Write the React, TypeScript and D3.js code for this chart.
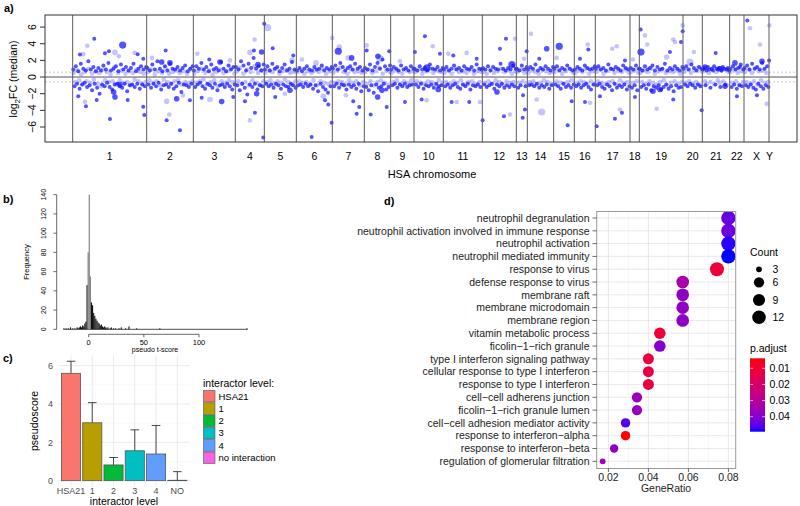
import React from 'react';
import * as d3 from 'd3';

const FONT = '"Liberation Sans", Arial, Helvetica, sans-serif';

// ---------- a) log2FC along the genome ----------
const chrNames = ['1', '2', '3', '4', '5', '6', '7', '8', '9', '10', '11', '12', '13', '14', '15', '16', '17', '18', '19', '20', '21', '22', 'X', 'Y'];
const chrGeneCounts = [2220, 1400, 1260, 870, 960, 1080, 960, 790, 700, 880, 1170, 1020, 330, 790, 620, 630, 1040, 280, 1310, 580, 820, 430, 750, 30];

// significant genes (dark) per chromosome, in genome order
const bandDark: number[][] = [
  [0.9, -1.1, 1.3, -0.8, 0.7, -1.4, 1.6, -0.9, 1.0, -0.7, 0.8, -1.2, 1.9, -1.0, 0.9, -1.6, 1.2, -0.8, 0.7, -1.3, 1.1, -2.0, 0.8, -0.9, 1.4, -1.1, 0.9, -0.7, 1.7, -1.2, 0.8, -1.5, 1.0, -0.9, 1.3, -0.8, 0.7, -1.1, 1.5, -1.3, 0.9, -0.8, 1.2, -1.7, 0.8, -1.0, 1.1, -0.9, 1.6, -1.2, 0.7, -0.8, 1.0, -1.4, 1.3, -0.9, 0.9, -1.1, 1.2],
  [1.1, -0.9, 0.8, -1.3, 1.5, -0.8, 0.9, -1.1, 1.9, -0.7, 1.0, -1.5, 0.7, -1.0, 1.3, -0.9, 0.8, -1.2, 1.6, -0.8, 1.0, -1.4, 0.9, -1.1, 1.2, -0.7, 0.8, -1.8, 1.1, -0.9, 1.4, -1.0, 0.7, -1.2, 1.0, -0.8, 1.3],
  [0.8, -1.2, 1.3, -0.9, 1.0, -0.7, 1.7, -1.1, 0.9, -1.4, 1.2, -0.8, 0.7, -1.0, 1.5, -1.3, 0.9, -0.8, 1.1, -1.6, 0.8, -1.0, 1.8, -0.9, 1.0, -1.2, 0.7, -0.8, 1.4, -1.1, 0.9, -1.5, 1.2, -0.9],
  [1.2, -1.0, 0.9, -1.6, 1.9, -0.8, 1.4, -1.3, 0.8, -2.1, 1.6, -0.9, 1.1, -1.2, 2.3, -0.8, 1.0, -1.5, 1.3, -1.0, 0.8, -1.1, 1.5],
  [0.9, -0.8, 1.3, -1.1, 0.8, -0.9, 1.6, -1.3, 1.0, -0.8, 1.2, -1.0, 0.7, -1.4, 1.1, -0.9, 1.5, -1.1, 0.8, -1.2, 1.0, -0.8, 1.8, -1.0, 0.9, -1.3],
  [0.8, -1.0, 1.1, -0.9, 0.7, -1.2, 1.0, -0.8, 1.3, -1.1, 0.9, -0.9, 0.8, -1.4, 1.2, -1.0, 0.9, -1.7, 1.0, -0.8, 1.4, -1.2, 0.8, -1.5, 1.1, -1.9, 0.9, -1.1, 1.2],
  [1.0, -1.1, 1.4, -0.8, 0.9, -1.3, 1.7, -0.9, 1.2, -1.0, 0.8, -1.5, 1.1, -0.9, 1.3, -1.2, 0.9, -1.0, 1.6, -1.4, 1.0, -0.8, 1.2, -1.7, 0.8, -1.1],
  [1.1, -1.2, 0.9, -1.6, 1.5, -1.0, 0.8, -1.9, 1.2, -0.9, 1.7, -1.3, 1.0, -1.1, 2.1, -0.8, 1.3, -1.5, 0.9, -1.2, 1.4],
  [0.9, -1.0, 1.2, -0.8, 1.0, -1.3, 0.8, -0.9, 1.4, -1.1, 0.9, -0.8, 1.1, -1.2, 0.8, -1.0, 1.3, -0.9, 1.0],
  [1.0, -0.9, 0.8, -1.2, 1.3, -0.8, 0.9, -1.4, 1.1, -1.0, 0.8, -1.1, 1.5, -0.9, 1.0, -1.3, 0.9, -0.8, 1.2, -1.1, 0.8, -1.0, 1.1],
  [0.9, -1.1, 1.2, -0.9, 0.8, -1.3, 1.0, -1.0, 1.4, -0.8, 0.9, -1.2, 1.1, -1.4, 0.8, -0.9, 1.3, -1.1, 1.0, -0.8, 0.9, -1.5, 1.2, -1.0, 0.8, -1.1, 1.5, -0.9, 1.0, -1.2, 0.9],
  [1.1, -0.9, 0.9, -1.2, 1.3, -1.0, 0.8, -0.8, 1.2, -1.4, 1.0, -0.9, 0.9, -1.1, 1.6, -0.8, 1.0, -1.3, 0.8, -1.0, 1.1, -1.2, 0.9, -0.9, 1.4, -1.1, 1.0],
  [1.0, -1.3, 0.8, -1.0, 1.4, -2.2, 0.9, -1.1, 1.2],
  [0.9, -1.0, 1.2, -0.9, 1.0, -1.1, 1.5, -0.8, 0.8, -1.3, 1.1, -1.0, 0.9, -1.2, 1.3, -0.9, 1.0, -1.4, 0.8, -1.0, 1.2],
  [1.0, -0.9, 1.3, -1.1, 0.8, -1.4, 1.1, -0.8, 0.9, -1.2, 1.4, -1.0, 1.0, -1.3, 0.8, -0.9],
  [0.9, -1.1, 1.2, -0.9, 1.0, -1.3, 0.8, -1.0, 1.4, -0.8, 1.1, -1.2, 0.9, -1.5, 1.0, -0.9, 1.3],
  [1.0, -1.0, 1.3, -0.8, 0.9, -1.2, 1.1, -1.4, 0.8, -0.9, 1.5, -1.1, 1.0, -1.6, 0.9, -0.8, 1.2, -1.3, 1.0, -1.0, 0.8, -1.2, 1.4, -0.9, 1.1, -1.5, 0.9, -1.1],
  [1.1, -1.3, 0.9, -1.0, 1.4, -1.6, 1.0],
  [1.0, -1.2, 0.8, -1.0, 1.3, -1.4, 0.9, -0.9, 1.1, -1.6, 1.4, -1.1, 0.8, -1.3, 1.2, -1.0, 0.9, -1.5, 1.0, -1.2, 1.6, -0.9, 0.8, -1.4, 1.1, -1.1, 0.9, -1.7, 1.3, -1.0, 1.0, -1.3, 0.8, -1.2, 1.2],
  [1.0, -0.9, 1.3, -1.1, 0.9, -0.8, 1.5, -1.0, 1.1, -1.3, 0.8, -0.9, 1.2, -1.1, 1.0],
  [0.9, 1.1, -1.0, 0.8, 1.2, 0.9, -1.3, 1.0, 0.8, 1.3, -0.9, 1.0, 0.9, 1.1, -1.2, 0.8, 1.2, 1.0, -0.9, 0.9, 1.1, 0.8],
  [1.0, -1.2, 1.3, -0.9, 0.9, -1.4, 1.1, -1.0, 1.5, -1.1, 0.9],
  [1.1, -1.0, 1.4, -1.2, 0.9, -0.9, 1.6, -1.3, 1.0, -1.5, 1.2, -0.8, 0.9, -1.1, 1.7, -1.4, 1.0, -1.0, 1.3, -1.2],
  [],
];

// non-significant genes (light) per chromosome
const bandLight: number[][] = [
  [0.5, -0.6, 0.8, -0.4, 0.3, -0.9, 0.6, -0.5, 1.0, -0.7, 0.4, -0.3, 0.7, -0.8, 0.5, -1.1, 0.9, -0.4, 0.6, -0.6, 0.3, -0.5, 1.2, -0.9, 0.5, -0.4, 0.8, -0.7, 0.4, -0.6, 0.7, -1.0, 0.5, -0.3, 0.9, -0.5, 0.6, -0.8, 0.4, -0.6],
  [0.6, -0.4, 0.9, -0.7, 0.3, -0.5, 0.7, -1.0, 0.5, -0.3, 1.1, -0.6, 0.4, -0.8, 0.6, -0.5, 0.8, -0.4, 0.5, -0.9, 0.7, -0.6, 0.4, -0.7, 0.9, -0.5],
  [0.4, -0.7, 0.7, -0.5, 1.0, -0.3, 0.5, -0.9, 0.8, -0.6, 0.3, -0.4, 0.6, -1.1, 0.9, -0.5, 0.5, -0.7, 0.7, -0.4, 1.0, -0.6, 0.4],
  [0.7, -0.5, 1.1, -0.8, 0.4, -0.6, 0.9, -1.0, 0.6, -0.4, 1.3, -0.7, 0.5, -0.9, 0.8, -0.5],
  [0.5, -0.6, 0.8, -0.4, 0.6, -0.8, 1.0, -0.5, 0.4, -0.7, 0.7, -0.3, 0.9, -0.6, 0.5, -0.9, 0.6, -0.5],
  [0.6, -0.5, 0.9, -0.7, 0.4, -0.6, 0.7, -0.9, 0.5, -0.4, 0.8, -1.0, 0.6, -0.5, 1.0, -0.7, 0.4, -0.8, 0.7, -0.6],
  [0.5, -0.7, 0.8, -0.5, 1.1, -0.6, 0.6, -0.9, 0.4, -0.4, 0.9, -0.7, 0.6, -0.5, 0.7, -1.0, 0.5, -0.6],
  [0.6, -0.8, 0.9, -0.5, 0.5, -1.0, 0.7, -0.6, 1.1, -0.4, 0.4, -0.7, 0.8, -0.9, 0.6],
  [0.5, -0.6, 0.8, -0.4, 0.6, -0.8, 0.4, -0.5, 0.9, -0.7, 0.6, -0.4, 0.7],
  [0.6, -0.5, 0.9, -0.7, 0.4, -0.8, 0.7, -0.5, 1.0, -0.6, 0.5, -0.9, 0.8, -0.4, 0.6, -0.7],
  [0.5, -0.6, 0.8, -0.8, 0.4, -0.5, 1.0, -0.7, 0.6, -0.4, 0.7, -0.9, 0.5, -0.6, 0.9, -0.5, 0.4, -0.8, 0.7, -0.6, 0.6],
  [0.6, -0.7, 0.4, -0.5, 0.9, -0.8, 0.5, -0.4, 0.7, -0.6, 1.0, -0.9, 0.6, -0.5, 0.8, -0.7, 0.4, -0.6, 0.7],
  [0.6, -0.7, 0.9, -0.5, 0.5, -0.8],
  [0.5, -0.6, 0.8, -0.5, 0.6, -0.9, 0.4, -0.7, 0.9, -0.4, 0.7, -0.6, 0.5, -0.8, 0.6],
  [0.6, -0.5, 0.9, -0.7, 0.4, -0.8, 0.7, -0.6, 1.0, -0.4, 0.5],
  [0.5, -0.7, 0.8, -0.5, 0.6, -0.6, 1.0, -0.8, 0.4, -0.5, 0.7, -0.9],
  [0.6, -0.5, 0.9, -0.7, 0.4, -0.8, 0.7, -0.6, 1.0, -0.5, 0.5, -0.9, 0.8, -0.4, 0.6, -0.7, 0.9, -0.6, 0.5],
  [0.6, -0.7, 0.8, -0.5, 0.5],
  [0.5, -0.6, 0.8, -0.8, 0.6, -0.5, 1.0, -0.7, 0.4, -0.9, 0.7, -0.6, 0.9, -0.4, 0.5, -1.0, 0.7, -0.7, 0.6, -0.5, 0.8, -0.8, 0.4, -0.6],
  [0.6, -0.7, 0.9, -0.5, 0.5, -0.8, 0.8, -0.6, 1.1, -0.9, 0.7],
  [0.7, -0.5, -0.8, 0.5, -0.6, 1.0, -0.9, 0.6, -0.4, -0.7, 0.8, -0.5, 0.9, -1.0, 0.6],
  [0.6, -0.7, 0.9, -0.5, 0.5, -0.9, 0.7, -0.6],
  [0.6, -0.6, 0.9, -0.8, 0.5, -0.5, 1.1, -0.9, 0.7, -0.4, 0.8, -0.7, 0.5, -0.6],
  [],
];

// outlying genes: [gene index, log2FC, size class 1-3, significant 1/0]
const outlierGenes: number[][] = [
  [648, 4.6, 1, 1], [438, 3.75, 1, 0], [219, 2.7, 1, 1], [318, 2.75, 1, 0], [969, 2.85, 1, 1], [1089, 3.1, 1, 1],
  [1269, 2.96, 2, 0], [1500, 3.84, 3, 1], [1389, 2.5, 1, 0], [1860, 2.9, 1, 0], [1950, 2.75, 1, 1], [2118, 2.2, 1, 1],
  [168, -2.3, 1, 1], [369, -2.96, 1, 0], [399, -3.5, 1, 1], [720, -2.75, 1, 1], [1119, -5.05, 1, 1], [1269, -2.4, 2, 1],
  [1650, -2.77, 1, 1], [2118, -3.56, 1, 1], [2148, -4.56, 1, 1], [1230, -1.8, 2, 1], [1419, -0.9, 2, 1],
  [2790, 3.2, 1, 1], [2919, 1.7, 2, 1], [2670, 1.8, 2, 1], [2379, 2.3, 1, 0], [2820, -2.9, 2, 0], [2898, -4.5, 1, 0],
  [2820, -5.2, 1, 1], [3219, -6.4, 1, 1], [3120, -2.6, 2, 1], [3519, -2.8, 1, 1], [3309, -2.2, 1, 0],
  [3738, 2.8, 1, 0], [4098, 2.1, 1, 1], [4419, 1.8, 2, 1], [4119, -2.7, 2, 0], [4470, -2.95, 2, 1], [4818, -2.4, 1, 1],
  [3870, -2.5, 1, 1], [4719, 2.0, 1, 0],
  [5319, 2.96, 2, 0], [5439, 3.2, 1, 1], [5460, 4.5, 1, 0], [5670, 3.0, 2, 1], [5169, -2.9, 1, 1], [5319, -5.2, 1, 0],
  [5469, -4.3, 1, 1], [5520, -2.0, 2, 1], [5718, -7.25, 1, 1], [5559, 1.5, 2, 1],
  [5748, 6.4, 1, 1], [5850, 5.95, 3, 0], [6000, 3.45, 1, 1], [6618, 2.6, 1, 1], [6579, 2.0, 2, 0], [6078, -2.4, 1, 1],
  [6369, -2.0, 1, 0], [6519, -1.6, 2, 1],
  [7170, -7.2, 1, 1], [7518, -2.3, 2, 0], [7569, -2.8, 1, 1], [7668, -3.3, 1, 1], [7770, -5.5, 1, 1], [7788, 4.7, 1, 0],
  [6879, 2.1, 1, 0], [7299, 1.7, 2, 0],
  [7998, 3.6, 2, 0], [7968, 3.1, 3, 1], [8370, 2.3, 2, 1], [8268, 2.3, 2, 0], [8418, -2.9, 1, 1], [8520, -4.4, 1, 1],
  [8598, -3.6, 1, 1], [8199, -2.2, 1, 0],
  [8820, 3.8, 1, 0], [8820, 3.2, 1, 1], [9219, 2.2, 3, 0], [9159, 2.5, 2, 1], [9498, 3.1, 1, 1], [8940, -4.5, 1, 1],
  [9150, -2.4, 2, 1], [9420, -3.6, 1, 1], [9279, -1.6, 2, 1],
  [9969, -3.0, 1, 1], [9819, 1.9, 1, 0],
  [10269, 3.0, 1, 1], [10569, 4.9, 1, 1], [10800, 3.7, 1, 0], [11019, 2.8, 1, 1], [10968, -1.5, 2, 1], [10470, -2.7, 1, 1],
  [10620, -2.8, 1, 0], [10629, 1.1, 3, 1],
  [11268, 2.8, 1, 0], [11418, 2.6, 1, 1], [11820, 2.9, 1, 0], [12120, 2.2, 1, 1], [11370, -3.0, 1, 1], [11520, -3.0, 1, 0],
  [11898, -3.0, 1, 1], [12219, -3.0, 1, 0], [12300, -5.2, 1, 1],
  [12819, 3.4, 1, 1], [12999, 4.6, 1, 1], [12939, -4.7, 1, 1], [13119, -4.5, 1, 0], [13269, 4.6, 1, 0], [12729, -1.8, 2, 1],
  [13179, 1.5, 3, 1],
  [13500, -4.9, 1, 1], [13569, -3.9, 1, 1], [13620, 3.1, 1, 1], [13539, 2.2, 1, 0],
  [13749, 5.2, 1, 0], [14220, 3.4, 2, 1], [14070, -4.2, 3, 0], [13920, -2.7, 1, 0], [13998, 2.2, 1, 1],
  [14598, 3.7, 3, 1], [14850, -5.8, 1, 1], [14520, 2.3, 1, 0], [14970, -2.9, 1, 1],
  [15450, 3.9, 1, 0], [15468, 3.3, 1, 1], [15219, 2.2, 1, 1], [15369, -3.0, 1, 1], [15519, -3.1, 1, 0], [15720, -5.9, 1, 1],
  [16320, 3.7, 1, 0], [16188, 3.4, 1, 0], [16419, -3.9, 1, 0], [16269, -5.0, 1, 1], [16479, -4.3, 1, 1], [15819, -2.3, 1, 1],
  [16569, 2.0, 1, 1],
  [16869, -2.4, 1, 1], [16809, 2.1, 1, 0],
  [17040, 5.7, 1, 1], [17169, 5.0, 1, 0], [17049, 3.0, 3, 1], [17238, 3.9, 1, 0], [17520, -3.8, 1, 0], [18018, 4.5, 1, 0],
  [18069, 4.2, 1, 0], [18300, 6.2, 1, 0], [18300, 5.5, 1, 1], [18249, 4.2, 1, 1], [17919, 3.0, 1, 1], [17820, 2.4, 2, 0],
  [18018, -2.7, 1, 1], [17409, -1.7, 2, 1], [17619, -1.5, 2, 1],
  [18639, 3.0, 1, 0], [18870, -4.0, 1, 1], [18519, 1.8, 3, 0],
  [19290, 2.9, 1, 1], [19569, -1.1, 2, 1], [18969, 1.2, 2, 1], [19419, 1.0, 2, 1],
  [19869, 1.7, 2, 1], [20019, 1.2, 1, 1], [19929, -2.3, 1, 1],
  [20238, 6.8, 1, 1], [20319, 5.85, 1, 0], [20619, 3.9, 1, 0], [20820, -3.2, 1, 0], [20529, -2.2, 1, 1], [20679, 1.9, 2, 1],
  [20898, 6.2, 1, 0], [20893, 2.0, 1, 1],
];
const fcTicks = [-6, -4, -2, 0, 2, 4, 6];
const fcCutoff = 0.58;

// ---------- b) histogram of pseudo t-scores ----------
const tBinStart = [-23, -21, -19, -17, -15, -13, -11, -10, -9, -8, -7, -6, -5, -4, -3, -2, -1, 0, 1, 2, 3, 4, 5, 6, 7, 8, 9, 10, 11, 12, 13, 14, 15, 16, 17, 19, 20, 22, 24, 27, 29, 33, 36, 43, 64, 143];
const tCounts = [1, 1, 1, 2, 1, 1, 2, 1, 2, 3, 2, 4, 3, 6, 8, 46, 80, 140, 55, 28, 25, 17, 14, 11, 9, 7, 6, 4, 5, 3, 2, 3, 2, 1, 2, 1, 2, 1, 1, 1, 2, 1, 3, 1, 1, 1];
const freqTicks = [0, 20, 40, 60, 80, 100, 120, 140];
const tTicks = [0, 50, 100];

// ---------- c) pseudoscore by interactor level ----------
const levels = ['HSA21', '1', '2', '3', '4', 'NO'];
const levelNames = ['HSA21', '1', '2', '3', '4', 'no interaction'];
const levelColors = ['#F8766D', '#B79F00', '#00BA38', '#00BFC4', '#619CFF', '#F564E3'];
const pseudoMean = [5.6, 3.02, 0.82, 1.56, 1.39, 0.02];
const pseudoErr = [0.63, 1.05, 0.39, 1.09, 1.49, 0.45];
const pseudoTicks = [0, 2, 4, 6];

// ---------- d) GO enrichment dot plot ----------
const goTerms = [
  'neutrophil degranulation',
  'neutrophil activation involved in immune response',
  'neutrophil activation',
  'neutrophil mediated immunity',
  'response to virus',
  'defense response to virus',
  'membrane raft',
  'membrane microdomain',
  'membrane region',
  'vitamin metabolic process',
  'ficolin\u22121\u2212rich granule',
  'type I interferon signaling pathway',
  'cellular response to type I interferon',
  'response to type I interferon',
  'cell\u2212cell adherens junction',
  'ficolin\u22121\u2212rich granule lumen',
  'cell\u2212cell adhesion mediator activity',
  'response to interferon\u2212alpha',
  'response to interferon\u2212beta',
  'regulation of glomerular filtration',
];
const goCounts = [14, 14, 14, 14, 13, 10, 10, 10, 10, 8, 8, 7, 7, 7, 6, 6, 5, 5, 4, 3];
const goTotal = 175;
const goPadj = [0.0438, 0.0434, 0.0484, 0.0493, 0.0106, 0.0334, 0.038, 0.038, 0.0384, 0.0106, 0.0402, 0.0115, 0.0124, 0.0124, 0.0366, 0.0366, 0.046, 0.0038, 0.038, 0.0357];
const ratioTicks = [0.02, 0.04, 0.06, 0.08];
const ratioMinor = [0.03, 0.05, 0.07];
const countBreaks = [3, 6, 9, 12];
const padjBreaks = [0.01, 0.02, 0.03, 0.04];

function PanelA() {
  const x = d3.scaleLinear().domain([-830, 21730]).range([45, 797]);
  const y = d3.scaleLinear().domain([-7.8, 7.45]).range([142, 15]);
  const cum = d3.cumsum([0, ...chrGeneCounts]);
  const starts = chrGeneCounts.map((_, i) => cum[i]);
  const band = (arr: number[][], dark: boolean) =>
    arr.flatMap((vals, c) =>
      vals.map((v, i) => ({ g: starts[c] + ((i + 0.5) / vals.length) * chrGeneCounts[c], v, dark, s: 1 })));
  const light = band(bandLight, false).concat(outlierGenes.filter(o => !o[3]).map(o => ({ g: o[0], v: o[1], dark: false, s: o[2] })));
  const dark = band(bandDark, true).concat(outlierGenes.filter(o => o[3]).map(o => ({ g: o[0], v: o[1], dark: true, s: o[2] })));
  const rad = d3.scaleLinear().domain([1, 3]).range([2.0, 3.6]);
  return (
    <g fontFamily={FONT}>
      <text x={4} y={12} fontSize={11} fontWeight="bold">a)</text>
      {[fcCutoff, -fcCutoff].map(c => (
        <line key={c} x1={45} x2={797} y1={y(c)} y2={y(c)} stroke="#bbb" strokeDasharray="2,2" strokeWidth={0.8} />
      ))}
      {light.map((p, i) => (
        <circle key={'l' + i} cx={x(p.g)} cy={y(p.v)} r={p.s === 1 ? 2.3 : rad(p.s)} fill="#8a8aff" fillOpacity={0.5} />
      ))}
      {dark.map((p, i) => (
        <circle key={'d' + i} cx={x(p.g)} cy={y(p.v)} r={rad(p.s)} fill="#1010ff" fillOpacity={0.72} />
      ))}
      <line x1={45} x2={797} y1={y(0)} y2={y(0)} stroke="#555" strokeWidth={1} />
      {starts.map((s, i) => (
        <line key={i} x1={x(s)} x2={x(s)} y1={15} y2={142} stroke="#5c5c5c" strokeWidth={1} />
      ))}
      <rect x={45} y={15} width={752} height={127} fill="none" stroke="#333" strokeWidth={1} />
      {fcTicks.map(t => (
        <g key={t}>
          <line x1={40} x2={45} y1={y(t)} y2={y(t)} stroke="#333" />
          <text transform={`translate(36,${y(t)}) rotate(-90)`} textAnchor="middle" fontSize={10.5}>
            {t < 0 ? '\u2212' + Math.abs(t) : t}
          </text>
        </g>
      ))}
      {chrNames.map((n, i) => (
        <text key={n} x={x(starts[i] + chrGeneCounts[i] / 2)} y={160} textAnchor="middle" fontSize={10.5}>{n}</text>
      ))}
      <text x={432} y={178} textAnchor="middle" fontSize={11}>HSA chromosome</text>
      <text transform="translate(17,79) rotate(-90)" textAnchor="middle" fontSize={10.5}>
        log<tspan dy={2.5} fontSize={8}>2</tspan><tspan dy={-2.5}>FC (median)</tspan>
      </text>
    </g>
  );
}

function PanelB() {
  const x = d3.scaleLinear().domain([0, 100]).range([88.7, 199]);
  const y = d3.scaleLinear().domain([0, 140]).range([329.3, 194.7]);
  return (
    <g fontFamily={FONT}>
      <text x={3} y={203} fontSize={11} fontWeight="bold">b)</text>
      <line x1={x(d3.min(tBinStart)!)} x2={x(d3.max(tBinStart)! + 1)} y1={y(0)} y2={y(0)} stroke="#222" strokeWidth={0.8} />
      {tBinStart.map((b, i) => (
        <rect key={i} x={x(b)} width={x(b + 1) - x(b)} y={y(tCounts[i])} height={y(0) - y(tCounts[i])}
          fill={tCounts[i] > 50 ? '#7a7a7a' : '#111'} />
      ))}
      <line x1={56.7} x2={56.7} y1={y(0)} y2={y(140)} stroke="#444" strokeWidth={0.8} />
      {freqTicks.map(t => (
        <g key={t}>
          <line x1={53.5} x2={56.7} y1={y(t)} y2={y(t)} stroke="#444" strokeWidth={0.8} />
          <text transform={`translate(46,${y(t)}) rotate(-90)`} textAnchor="middle" fontSize={7}>{t}</text>
        </g>
      ))}
      <text transform="translate(29,262) rotate(-90)" textAnchor="middle" fontSize={7.5}>Frequency</text>
      <line x1={x(0)} x2={x(100)} y1={334.3} y2={334.3} stroke="#444" strokeWidth={0.8} />
      {tTicks.map(t => (
        <g key={t}>
          <line x1={x(t)} x2={x(t)} y1={334.3} y2={337.3} stroke="#444" strokeWidth={0.8} />
          <text x={x(t)} y={345} textAnchor="middle" fontSize={7.5}>{t}</text>
        </g>
      ))}
      <text x={155} y={352} textAnchor="middle" fontSize={7}>pseudo t-score</text>
    </g>
  );
}

function PanelC() {
  const x = d3.scalePoint<string>().domain(levels).range([71, 177.3]);
  const step = x.step();
  const bw = step * 0.9;
  const y = d3.scaleLinear().domain([-0.31, 6.54]).range([486.6, 355.3]);
  const minor = [1, 3, 5];
  return (
    <g fontFamily={FONT}>
      <text x={3} y={362} fontSize={11} fontWeight="bold">c)</text>
      {minor.map(t => <line key={'m' + t} x1={58.2} x2={190} y1={y(t)} y2={y(t)} stroke="#f2f2f2" strokeWidth={0.5} />)}
      {pseudoTicks.map(t => <line key={t} x1={58.2} x2={190} y1={y(t)} y2={y(t)} stroke="#e6e6e6" strokeWidth={0.8} />)}
      {levels.map(l => <line key={l} x1={x(l)} x2={x(l)} y1={355.3} y2={486.6} stroke="#e6e6e6" strokeWidth={0.8} />)}
      {levels.map((l, i) => (
        <g key={'b' + l}>
          <line x1={x(l)} x2={x(l)} y1={y(pseudoMean[i])} y2={y(pseudoMean[i] + pseudoErr[i])} stroke="#333" strokeWidth={0.9} />
          <line x1={x(l)! - 4.3} x2={x(l)! + 4.3} y1={y(pseudoMean[i] + pseudoErr[i])} y2={y(pseudoMean[i] + pseudoErr[i])} stroke="#333" strokeWidth={0.9} />
          <rect x={x(l)! - bw / 2} width={bw} y={y(pseudoMean[i])} height={y(0) - y(pseudoMean[i])}
            fill={levelColors[i]} stroke="#555" strokeWidth={0.8} />
        </g>
      ))}
      {pseudoTicks.map(t => (
        <text key={t} x={53} y={y(t) + 3.2} textAnchor="end" fontSize={9} fill="#4d4d4d">{t}</text>
      ))}
      {levels.map(l => (
        <text key={'t' + l} x={x(l)} y={494} textAnchor="middle" fontSize={9} fill="#4d4d4d">{l}</text>
      ))}
      <text x={124} y={505} textAnchor="middle" fontSize={10.5}>interactor level</text>
      <text transform="translate(38,421) rotate(-90)" textAnchor="middle" fontSize={10.5}>pseudoscore</text>
      <text x={203} y={387} fontSize={10.5}>interactor level:</text>
      {levelNames.map((n, i) => (
        <g key={'k' + n}>
          <rect x={203.5} y={390.5 + i * 12.3} width={11.5} height={11.5} fill={levelColors[i]} stroke="#555" strokeWidth={0.6} />
          <text x={218.5} y={399.5 + i * 12.3} fontSize={9.5}>{n}</text>
        </g>
      ))}
    </g>
  );
}

function PanelD() {
  const x = d3.scaleLinear().domain([0.01415, 0.08365]).range([596.7, 735.7]);
  const y = d3.scalePoint<string>().domain(goTerms).range([218, 461.3]);
  const pExt = d3.extent(goPadj) as [number, number];
  const color = d3.scaleLinear<string>().domain(pExt).range(['red', 'blue']).interpolate(d3.interpolateLab);
  const sz = d3.scaleLinear().domain([0, 1]).range([2.9, 7.2]);
  const cMin = d3.min(goCounts)!;
  const cMax = d3.max(goCounts)!;
  const r = (c: number) => sz(Math.sqrt((c - cMin) / (cMax - cMin)));
  const barY = d3.scaleLinear().domain(pExt).range([358.3, 431.7]);
  const stops = d3.range(0, 1.0001, 0.05);
  const legendY = [269.3, 282.3, 300, 317.3];
  const top = 211.5;
  const bottom = 468.5;
  return (
    <g fontFamily={FONT}>
      <defs>
        <linearGradient id="padj" x1="0" y1="0" x2="0" y2="1">
          {stops.map(s => (
            <stop key={s} offset={s} stopColor={color(pExt[0] + s * (pExt[1] - pExt[0]))} />
          ))}
        </linearGradient>
        <clipPath id="dclip"><rect x={596.7} y={top} width={139} height={bottom - top} /></clipPath>
      </defs>
      <text x={384} y={205} fontSize={11} fontWeight="bold">d)</text>
      <rect x={596.7} y={top} width={139} height={bottom - top} fill="#fff" />
      {ratioMinor.map(t => <line key={t} x1={x(t)} x2={x(t)} y1={top} y2={bottom} stroke="#f1f1f1" strokeWidth={0.6} />)}
      {ratioTicks.map(t => <line key={t} x1={x(t)} x2={x(t)} y1={top} y2={bottom} stroke="#e3e3e3" strokeWidth={0.8} />)}
      {goTerms.map(g => <line key={g} x1={596.7} x2={735.7} y1={y(g)} y2={y(g)} stroke="#e3e3e3" strokeWidth={0.8} />)}
      <g clipPath="url(#dclip)">
        {goTerms.map((g, i) => (
          <circle key={g} cx={x(goCounts[i] / goTotal)} cy={y(g)} r={r(goCounts[i])} fill={color(goPadj[i])} />
        ))}
      </g>
      <rect x={596.7} y={top} width={139} height={bottom - top} fill="none" stroke="#9a9a9a" strokeWidth={1} />
      {goTerms.map(g => (
        <g key={'t' + g}>
          <line x1={592.5} x2={596.7} y1={y(g)} y2={y(g)} stroke="#444" strokeWidth={0.8} />
          <text x={589.5} y={y(g)! + 3.7} textAnchor="end" fontSize={10.5} fill="#222">{g}</text>
        </g>
      ))}
      {ratioTicks.map(t => (
        <g key={'x' + t}>
          <line x1={x(t)} x2={x(t)} y1={bottom} y2={bottom + 3.5} stroke="#444" strokeWidth={0.8} />
          <text x={x(t)} y={481} textAnchor="middle" fontSize={10.5} fill="#222">{t.toFixed(2)}</text>
        </g>
      ))}
      <text x={666} y={492} textAnchor="middle" fontSize={10.5} fill="#222">GeneRatio</text>
      <text x={750} y={255.5} fontSize={10.5}>Count</text>
      {countBreaks.map((c, i) => (
        <g key={c}>
          <circle cx={759} cy={legendY[i]} r={r(c)} fill="#000" />
          <text x={772.5} y={legendY[i] + 3.7} fontSize={10.5}>{c}</text>
        </g>
      ))}
      <text x={750} y={352} fontSize={10.5}>p.adjust</text>
      <rect x={750} y={358.3} width={15} height={73.4} fill="url(#padj)" />
      {padjBreaks.map(p => (
        <g key={p}>
          <line x1={750} x2={753} y1={barY(p)} y2={barY(p)} stroke="#fff" strokeWidth={0.6} />
          <line x1={762} x2={765} y1={barY(p)} y2={barY(p)} stroke="#fff" strokeWidth={0.6} />
          <text x={769.5} y={barY(p) + 3.7} fontSize={10.5}>{p.toFixed(2)}</text>
        </g>
      ))}
    </g>
  );
}

export default function App() {
  return (
    <svg width={800} height={506} style={{ position: 'absolute', left: 0, top: 0, background: '#fff' }}>
      <rect width={800} height={506} fill="#fff" />
      <PanelA />
      <PanelB />
      <PanelC />
      <PanelD />
    </svg>
  );
}
